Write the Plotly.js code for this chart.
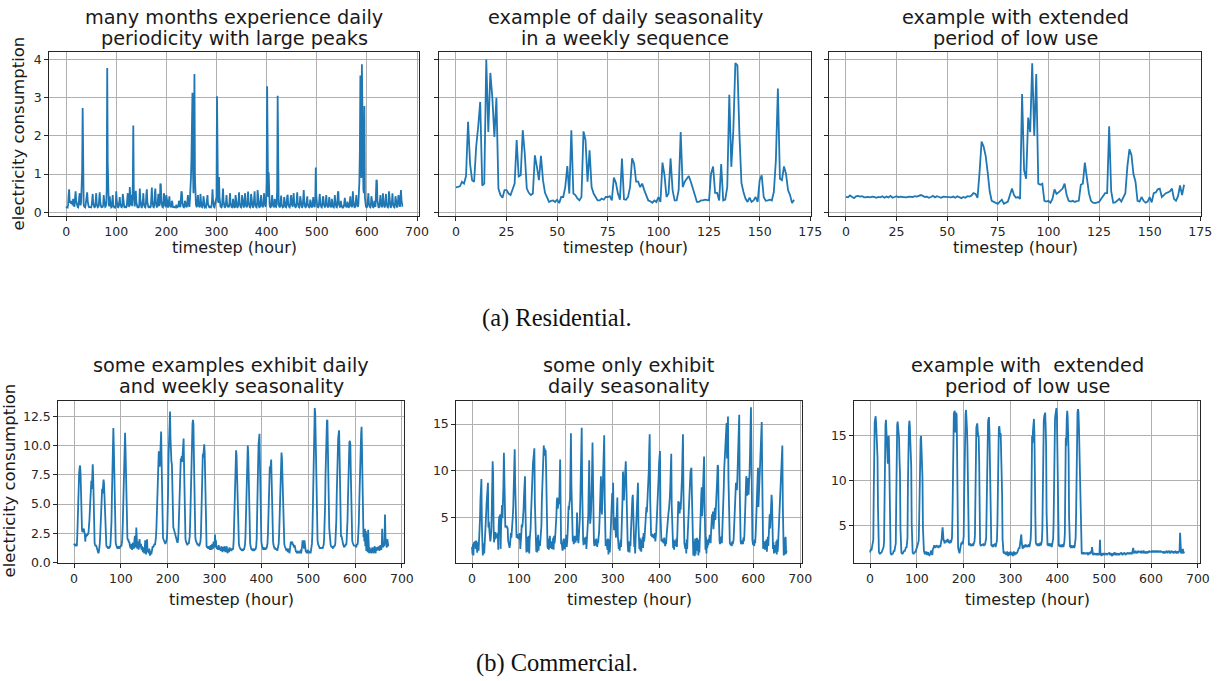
<!DOCTYPE html>
<html>
<head>
<meta charset="utf-8">
<script src="https://cdn.plot.ly/plotly-3.0.1.min.js"></script>
<style>
  html, body { margin: 0; padding: 0; background: #ffffff; }
  #chart { width: 1218px; height: 681px; }
</style>
</head>
<body>
<div id="chart"></div>
<script>
// ---------------------------------------------------------------
// Hourly electricity consumption, residential and commercial users
// ---------------------------------------------------------------

// Residential: four weeks of hourly readings (one row per day)
const resMonth = [
  [0.15,0.13,0.14,0.13,0.2,0.45,0.6,0.32,0.25,0.28,0.22,0.3,0.26,0.18,0.35,0.22,0.15,0.18,0.42,0.55,0.3,0.2,0.16,0.14],
  [0.13,0.2,0.38,0.5,0.25,0.18,0.3,0.55,1.1,2.73,0.6,0.22,0.15,0.14,0.13,0.2,0.28,0.45,0.52,0.3,0.18,0.15,0.13,0.14],
  [0.13,0.14,0.13,0.18,0.32,0.48,0.25,0.16,0.14,0.13,0.15,0.3,0.5,0.22,0.15,0.13,0.14,0.16,0.35,0.52,0.28,0.17,0.14,0.13],
  [0.13,0.14,0.2,0.45,0.3,0.16,0.14,0.15,0.22,0.6,3.78,1.3,0.35,0.2,0.16,0.42,0.28,0.15,0.13,0.14,0.38,0.45,0.18,0.14],
  [0.13,0.14,0.13,0.2,0.55,0.3,0.17,0.14,0.13,0.15,0.28,0.4,0.22,0.15,0.14,0.13,0.18,0.48,0.3,0.16,0.14,0.13,0.15,0.14],
  [0.13,0.15,0.35,0.5,0.24,0.16,0.14,0.66,0.3,0.18,0.45,0.25,0.16,0.7,2.27,0.55,0.2,0.15,0.38,0.56,0.28,0.17,0.14,0.13],
  [0.14,0.13,0.22,0.62,0.35,0.18,0.14,0.13,0.16,0.3,0.5,0.24,0.15,0.14,0.13,0.2,0.45,0.6,0.28,0.16,0.14,0.13,0.15,0.14],
  [0.13,0.15,0.4,0.65,0.3,0.17,0.14,0.13,0.18,0.5,0.62,0.26,0.15,0.14,0.13,0.25,0.48,0.3,0.16,0.22,0.75,0.72,0.3,0.15],
  [0.14,0.13,0.2,0.5,0.42,0.2,0.15,0.13,0.45,0.3,0.16,0.14,0.13,0.35,0.42,0.2,0.14,0.13,0.15,0.3,0.25,0.14,0.13,0.14],
  [0.13,0.14,0.13,0.15,0.2,0.13,0.14,0.13,0.15,0.3,0.22,0.14,0.13,0.35,0.55,0.5,0.24,0.15,0.14,0.13,0.16,0.3,0.2,0.14],
  [0.13,0.15,0.3,0.45,0.22,0.15,0.14,0.35,0.55,0.9,1.4,2.4,3.13,1.2,0.5,1.9,3.62,0.9,0.3,0.2,0.15,0.14,0.3,0.45],
  [0.2,0.14,0.13,0.15,0.48,0.3,0.16,0.14,0.13,0.18,0.42,0.25,0.15,0.13,0.14,0.13,0.2,0.38,0.45,0.22,0.15,0.14,0.13,0.15],
  [0.14,0.13,0.16,0.3,0.6,0.35,0.18,0.14,0.13,0.22,0.3,0.28,0.4,3.04,0.65,0.3,0.25,0.92,0.4,0.2,0.15,0.14,0.13,0.16],
  [0.35,0.62,0.3,0.17,0.14,0.13,0.15,0.28,0.45,0.22,0.14,0.13,0.15,0.13,0.3,0.5,0.24,0.15,0.14,0.13,0.18,0.35,0.2,0.14],
  [0.13,0.14,0.45,0.3,0.16,0.14,0.13,0.15,0.3,0.52,0.25,0.15,0.14,0.13,0.2,0.45,0.3,0.16,0.14,0.13,0.38,0.5,0.22,0.14],
  [0.13,0.15,0.3,0.54,0.26,0.16,0.14,0.13,0.2,0.48,0.3,0.17,0.14,0.13,0.15,0.35,0.55,0.25,0.15,0.14,0.13,0.22,0.58,0.3],
  [0.17,0.14,0.13,0.15,0.3,0.45,0.22,0.14,0.13,0.16,0.35,0.5,0.24,0.15,0.14,0.3,0.8,3.3,0.9,0.4,1.05,0.35,0.18,0.14],
  [0.13,0.15,0.3,0.45,0.22,0.14,0.13,0.16,0.35,0.28,0.15,0.14,0.22,0.6,3.05,0.5,0.2,0.15,0.14,0.13,0.3,0.44,0.2,0.14],
  [0.13,0.14,0.15,0.4,0.3,0.16,0.14,0.13,0.18,0.42,0.46,0.22,0.15,0.14,0.13,0.2,0.38,0.45,0.22,0.15,0.14,0.3,0.5,0.24],
  [0.15,0.14,0.13,0.15,0.32,0.52,0.26,0.16,0.14,0.13,0.2,0.42,0.3,0.17,0.14,0.13,0.15,0.35,0.58,0.28,0.16,0.14,0.13,0.15],
  [0.3,0.42,0.22,0.15,0.14,0.13,0.16,0.33,0.28,0.15,0.14,0.13,0.25,0.4,0.2,0.14,0.13,0.3,1.17,0.45,0.2,0.15,0.14,0.13],
  [0.15,0.3,0.48,0.24,0.15,0.14,0.13,0.2,0.38,0.42,0.2,0.15,0.14,0.13,0.28,0.45,0.22,0.15,0.14,0.13,0.3,0.4,0.2,0.14],
  [0.13,0.15,0.35,0.28,0.15,0.14,0.13,0.2,0.45,0.3,0.16,0.14,0.13,0.18,0.5,0.55,0.25,0.15,0.14,0.13,0.3,0.2,0.14,0.13],
  [0.14,0.13,0.15,0.3,0.38,0.2,0.14,0.13,0.15,0.28,0.22,0.14,0.13,0.15,0.3,0.42,0.2,0.14,0.13,0.2,0.55,0.3,0.16,0.14],
  [0.13,0.15,0.3,0.45,0.22,0.15,0.14,0.2,0.45,0.8,1.6,3.58,1.2,0.9,3.88,1.8,1.5,0.6,0.5,2.78,0.4,0.2,0.15,0.14],
  [0.13,0.15,0.35,0.5,0.24,0.15,0.14,0.13,0.2,0.42,0.3,0.16,0.14,0.13,0.15,0.3,0.22,0.14,0.45,0.85,0.82,0.3,0.16,0.14],
  [0.13,0.14,0.3,0.45,0.22,0.14,0.13,0.2,0.5,0.28,0.15,0.14,0.13,0.3,0.48,0.24,0.15,0.14,0.13,0.22,0.55,0.3,0.16,0.14],
  [0.13,0.15,0.28,0.5,0.25,0.15,0.14,0.13,0.2,0.42,0.3,0.16,0.14,0.13,0.25,0.45,0.3,0.15,0.14,0.4,0.58,0.32,0.18,0.15]
].flat();

// Residential: one week with a clear daily rhythm
const resWeek = [
  0.65,0.66,0.68,0.80,0.75,0.95,2.37,1.27,0.84,0.80,1.71,2.24,
  2.89,0.70,0.75,4.00,2.10,3.65,3.00,1.97,3.00,0.62,0.45,0.38,
  0.58,0.58,0.49,0.45,0.62,0.75,1.89,0.94,0.97,2.15,1.54,0.62,
  0.51,0.45,0.49,1.49,1.19,0.84,1.48,0.84,0.51,0.40,0.27,0.30,
  0.31,0.27,0.33,0.24,0.40,0.40,0.66,1.21,0.49,2.15,0.49,0.45,
  0.36,0.31,0.40,2.12,1.89,0.80,1.62,0.66,0.49,0.40,0.31,0.31,
  0.36,0.33,0.40,0.40,0.42,0.31,0.91,0.77,0.49,0.33,1.41,0.34,
  0.33,0.40,0.66,1.41,1.27,0.80,0.80,0.66,0.75,0.58,0.45,0.31,
  0.29,0.25,0.31,0.27,0.40,0.27,1.30,0.97,0.40,0.49,1.41,0.58,
  0.31,0.31,0.58,2.10,0.66,0.80,0.88,0.95,0.80,0.59,0.45,0.27,
  0.27,0.31,0.31,0.33,0.31,0.31,1.01,1.20,0.51,0.51,0.31,1.26,
  0.31,0.33,0.66,3.08,1.19,2.15,3.91,3.85,2.06,0.77,0.53,0.36,
  0.27,0.38,0.27,0.31,0.40,0.27,0.84,0.97,0.40,0.30,0.31,0.33,
  0.31,0.53,1.36,3.24,0.88,0.84,1.20,1.01,0.58,0.45,0.24,0.33
];

// Residential: one week that starts with a long quiet stretch
const resLowWeek = [
  0.40,0.39,0.44,0.40,0.37,0.42,0.43,0.41,0.42,0.39,0.40,0.40,
  0.39,0.41,0.40,0.38,0.40,0.39,0.42,0.38,0.41,0.39,0.43,0.38,
  0.40,0.42,0.39,0.41,0.40,0.40,0.39,0.41,0.40,0.40,0.42,0.41,
  0.43,0.45,0.43,0.40,0.41,0.38,0.40,0.43,0.39,0.42,0.40,0.38,
  0.41,0.40,0.41,0.40,0.39,0.41,0.38,0.42,0.39,0.37,0.40,0.38,
  0.42,0.41,0.44,0.50,0.48,0.38,1.05,1.85,1.72,1.48,1.05,0.55,
  0.30,0.27,0.25,0.22,0.28,0.33,0.22,0.24,0.28,0.45,0.62,0.45,
  0.38,0.40,0.35,3.10,1.10,0.88,2.48,2.10,3.90,2.00,3.62,0.75,
  0.72,0.75,0.30,0.28,0.30,0.25,0.35,0.60,0.48,0.52,0.56,0.62,
  0.75,0.45,0.30,0.28,0.30,0.27,0.29,0.30,0.72,0.75,1.30,0.90,
  0.50,0.30,0.25,0.24,0.25,0.27,0.35,0.42,0.50,0.50,2.25,0.55,
  0.25,0.26,0.30,0.35,0.28,0.40,0.50,1.20,1.65,1.50,1.00,0.80,
  0.30,0.28,0.40,0.30,0.25,0.28,0.40,0.26,0.50,0.52,0.60,0.62,
  0.40,0.45,0.50,0.52,0.55,0.62,0.35,0.30,0.42,0.70,0.45,0.72
];

// Commercial: weekday peaks, quiet weekends (one row per day)
const comWeekly = [
  [1.5,1.6,1.5,1.4,1.6,1.5,1.4,2.3,3.8,5.9,7.6,7.7,8.1,8.3,7.6,5.2,3.1,2.8,2.6,2.8,2.7,2.9,2.6,2.5],
  [1.8,2.3,2.2,2.4,2.3,2.5,2.4,2.6,3.0,3.7,4.6,5.9,6.8,7.0,6.3,7.5,8.4,7.2,4.5,2.8,1.7,1.5,1.4,1.5],
  [1.3,1.1,0.9,0.8,0.8,0.9,1.2,1.6,2.4,3.3,4.5,6.1,6.3,5.9,6.6,7.1,6.8,5.7,3.4,2.1,1.6,1.5,1.3,1.4],
  [1.3,1.2,1.3,1.2,1.4,1.3,1.7,2.4,3.5,5.8,8.6,10.2,11.5,9.9,7.0,4.6,2.6,1.7,1.5,1.4,1.3,1.2,1.3,1.4],
  [1.3,1.2,1.4,1.3,1.5,1.4,1.6,2.0,3.1,4.9,7.8,9.9,10.8,11.1,9.6,6.5,3.5,2.3,2.1,1.9,2.0,1.7,1.8,1.5],
  [1.3,1.2,1.6,1.3,1.1,1.4,1.7,1.5,1.2,1.9,2.3,1.6,1.3,3.0,1.5,1.2,1.8,1.4,1.1,1.7,2.0,1.5,1.3,1.6],
  [1.1,1.4,1.2,0.9,1.3,1.1,0.8,1.2,1.9,1.0,0.7,1.1,2.0,0.9,1.1,1.0,0.8,1.2,0.6,0.9,1.0,0.7,1.2,1.3],
  [1.4,1.3,1.5,1.4,1.6,1.5,1.7,2.2,3.0,4.6,6.9,8.8,9.3,9.5,8.4,8.2,9.0,10.4,11.2,8.7,4.9,2.8,2.1,2.0],
  [1.9,1.8,1.7,1.6,1.7,1.8,2.0,2.6,4.0,6.3,9.2,11.4,12.1,12.9,10.6,8.8,8.6,8.4,5.6,3.4,3.0,2.9,2.7,2.8],
  [2.6,2.4,2.1,1.9,1.8,1.7,1.9,2.5,3.6,5.3,7.4,8.5,8.9,8.7,9.1,8.6,9.4,9.9,10.6,8.2,4.6,2.6,2.0,1.8],
  [1.7,1.6,1.5,1.6,1.7,1.6,1.8,2.2,3.4,5.4,8.1,10.3,11.6,11.9,12.2,11.8,9.0,5.8,3.2,2.2,1.9,1.8,1.7,1.6],
  [1.5,1.6,1.5,1.4,1.5,1.6,1.8,2.4,3.7,5.8,8.3,9.3,9.0,9.6,10.1,9.4,6.4,3.3,1.8,1.4,1.3,1.4,1.2,1.3],
  [1.2,1.4,1.1,1.3,1.5,1.2,1.1,1.6,1.3,1.2,1.8,1.4,1.3,2.4,1.5,1.9,1.3,1.2,1.4,1.1,1.3,1.5,1.2,1.1],
  [1.3,1.0,1.2,1.4,1.1,0.9,1.2,1.3,1.0,1.4,1.2,0.9,1.1,1.3,1.4,1.0,0.8,1.2,1.1,0.9,1.3,1.0,1.2,1.1],
  [1.0,1.1,1.2,1.1,1.3,2.0,3.4,5.6,7.8,9.1,9.6,9.2,7.4,5.0,3.0,2.2,1.6,1.4,1.2,1.3,1.1,1.2,1.0,1.1],
  [1.1,1.0,1.2,1.1,1.3,1.5,2.2,3.8,6.1,8.4,9.5,10.0,9.3,6.8,4.2,2.5,1.7,1.4,1.3,1.1,1.2,1.0,1.1,1.2],
  [1.1,1.0,1.2,1.1,1.2,1.4,2.0,3.4,5.7,8.3,10.1,10.6,11.0,8.5,5.4,3.0,1.8,1.5,1.3,1.2,1.1,1.3,1.2,1.1],
  [1.2,1.1,1.3,1.2,1.4,1.6,2.4,4.0,6.2,7.6,8.2,7.8,8.3,8.8,7.0,4.5,2.6,1.8,1.5,1.3,1.2,1.3,1.1,1.2],
  [1.1,1.2,1.0,1.2,1.3,1.6,2.5,4.3,6.5,8.4,9.1,9.4,8.9,7.3,4.8,2.9,1.9,1.6,1.4,1.3,1.2,1.1,1.0,1.2],
  [1.1,0.9,1.0,1.2,0.8,1.1,1.3,1.8,1.7,1.6,1.8,1.5,1.6,1.4,1.3,1.5,1.2,1.1,0.9,1.0,0.8,0.9,1.0,0.8],
  [0.9,0.8,1.0,0.9,1.1,0.8,1.0,1.4,1.9,1.5,1.8,1.2,1.9,1.4,1.1,0.9,1.0,0.8,0.9,1.1,0.8,0.9,1.0,0.8],
  [0.9,0.8,1.0,1.2,1.6,2.6,4.8,7.9,10.6,12.4,13.2,12.8,9.7,8.4,4.6,2.6,1.9,1.6,1.5,1.4,1.3,1.2,1.3,1.2],
  [1.3,1.2,1.3,1.2,1.4,1.5,2.0,3.0,4.8,7.5,10.1,11.8,12.1,12.2,10.6,8.3,5.2,2.9,2.0,1.6,1.5,1.4,1.3,1.4],
  [1.3,1.2,1.4,1.3,1.5,1.4,1.7,2.3,3.6,5.9,8.5,10.0,10.6,11.0,11.3,9.2,5.6,3.0,2.2,2.3,2.0,1.8,1.6,1.5],
  [1.4,1.3,1.5,1.4,1.6,1.5,1.8,2.4,3.7,5.6,8.2,9.9,10.3,10.4,10.1,7.6,4.3,2.5,1.9,1.7,1.6,1.5,1.4,1.5],
  [1.4,1.5,1.3,1.4,1.6,1.5,1.7,2.2,3.3,5.0,7.4,8.6,9.5,11.0,11.6,9.3,5.2,2.9,2.2,2.6,1.8,2.9,1.4,2.7],
  [1.0,2.5,1.2,0.9,2.8,1.1,0.8,1.3,0.9,1.2,0.8,1.0,0.9,1.3,1.1,0.8,0.9,1.2,1.4,1.1,0.8,1.3,1.0,1.2],
  [1.3,1.1,1.4,1.2,1.0,1.3,1.5,1.2,1.1,1.4,2.9,1.6,1.3,1.8,1.4,1.9,4.1,2.2,1.5,1.4,1.3,2.0,1.7,1.4]
].flat();

// Commercial: daily peaks only, no weekly pattern
const comDaily = [
  [1.8,1.0,2.1,0.9,2.3,1.9,2.4,2.2,1.6,2.5,2.0,1.2,1.9,2.3,1.4,2.2,3.1,4.8,6.9,8.2,9.1,4.2,1.5,0.9],
  [1.8,2.2,1.1,1.9,2.4,3.6,5.2,6.4,7.5,7.9,8.7,3.9,4.5,3.6,3.1,2.4,2.8,3.5,5.4,7.8,11.0,9.6,4.1,2.3],
  [3.2,2.6,3.4,3.0,3.1,2.9,2.7,3.3,1.5,4.2,5.1,4.6,5.3,1.6,4.0,5.2,6.3,4.9,6.0,8.4,11.9,7.2,4.1,3.9],
  [4.0,3.9,4.1,3.8,3.9,2.5,2.1,1.9,1.7,2.0,2.6,3.3,2.8,3.4,4.3,5.1,6.2,7.8,9.8,12.3,8.6,5.0,3.1,2.8],
  [2.9,3.2,2.7,3.0,2.8,2.6,3.3,1.6,2.4,3.0,4.2,3.9,4.3,4.8,5.9,7.4,8.6,9.4,5.6,3.1,1.2,2.9,1.3,2.8],
  [2.7,3.0,1.1,2.6,3.2,3.8,5.5,7.3,9.6,10.4,10.8,11.3,12.1,12.4,6.7,3.3,2.4,1.3,2.8,1.2,2.6,3.1,1.4,2.5],
  [2.2,1.9,2.8,3.0,4.1,6.8,9.2,11.6,12.1,12.7,11.9,12.4,11.6,12.2,10.3,6.4,3.7,1.8,1.6,2.7,1.5,2.9,3.0,2.1],
  [1.7,2.4,1.6,2.3,1.9,2.8,1.5,3.0,2.2,2.6,3.4,4.1,5.2,6.8,7.1,5.9,6.6,7.0,6.4,9.3,11.2,6.5,2.1,2.6],
  [1.9,1.4,2.3,1.5,2.7,2.0,1.6,2.5,2.2,3.1,1.8,2.4,3.3,4.7,6.2,5.8,6.6,6.9,10.1,14.0,8.4,4.3,2.6,2.4],
  [2.8,2.1,2.6,3.0,2.4,2.3,2.9,2.5,5.5,2.6,2.7,2.2,2.8,3.4,4.9,6.9,9.3,12.6,14.6,7.9,3.6,2.5,2.0,2.8],
  [2.3,2.6,2.1,2.9,1.6,2.5,2.8,3.6,5.2,8.3,11.1,6.2,4.3,4.9,5.8,7.1,9.6,13.0,8.0,3.9,2.4,1.9,2.6,2.1],
  [2.0,2.7,2.4,1.8,2.5,2.2,2.9,3.3,4.6,6.2,5.8,9.4,6.1,5.3,6.7,8.4,10.9,12.8,13.8,7.2,2.5,1.9,2.6,2.3],
  [2.1,1.5,2.7,1.0,2.3,2.6,1.2,2.4,3.0,4.3,6.2,7.6,5.4,8.7,4.5,3.6,4.1,5.0,3.3,2.8,4.4,5.3,7.1,3.0],
  [2.5,1.6,2.2,1.4,2.0,2.6,1.8,3.1,4.6,6.9,9.9,7.4,6.8,8.1,9.6,10.3,11.0,8.9,5.1,2.9,2.2,1.3,2.4,1.6],
  [1.2,2.3,1.9,3.4,5.2,6.6,7.0,7.4,3.9,2.6,1.8,2.5,1.1,2.7,3.8,5.6,6.9,8.1,8.7,4.2,2.3,1.6,2.8,1.4],
  [2.4,1.3,2.6,2.0,2.9,1.7,3.3,2.4,2.8,3.6,4.2,5.3,6.1,5.5,6.4,7.8,8.6,9.9,12.2,13.9,7.1,3.2,3.0,3.1],
  [2.9,3.2,3.0,2.8,3.1,2.7,3.3,2.4,2.9,3.5,4.4,5.6,6.8,7.9,9.2,10.8,11.5,12.1,5.4,2.6,2.4,2.7,2.5,2.3],
  [2.6,2.2,2.8,2.4,1.9,2.5,2.1,3.0,3.8,4.9,5.2,5.4,5.8,6.3,7.1,8.4,10.6,11.8,6.2,3.0,2.2,1.7,2.6,1.5],
  [2.3,1.9,2.5,2.0,2.7,1.8,3.2,4.6,6.7,6.5,6.1,5.4,6.6,5.8,6.9,7.6,9.4,11.8,13.9,7.8,3.1,2.2,1.9,1.6],
  [2.2,1.1,2.6,1.6,3.0,4.3,5.8,7.2,8.0,9.1,9.8,10.1,10.3,7.6,3.9,1.8,0.9,2.4,1.3,0.8,2.7,1.0,2.3,1.6],
  [2.8,1.4,2.1,0.9,2.6,1.2,3.3,4.7,6.2,7.4,8.2,5.1,6.3,8.4,10.2,11.5,6.8,3.5,1.5,2.9,1.1,2.4,1.7,2.6],
  [2.0,2.7,2.3,3.1,2.5,2.2,3.5,4.0,5.3,4.8,5.6,3.7,4.4,5.2,6.0,4.7,5.5,6.3,7.6,9.1,10.6,10.4,5.9,2.8],
  [2.4,2.1,2.6,2.3,2.9,2.2,3.4,4.5,6.3,8.1,10.2,11.5,11.0,12.4,14.3,15.1,11.3,14.6,15.8,9.2,4.4,2.6,2.2,2.1],
  [2.0,2.2,1.9,2.4,2.1,2.3,2.6,3.8,5.4,7.0,8.6,8.7,8.4,7.9,9.1,10.8,12.9,14.8,16.0,8.3,3.6,2.4,2.1,2.3],
  [2.2,2.5,2.1,2.8,2.4,3.0,4.6,6.5,8.4,9.4,8.7,7.3,9.2,8.0,7.4,8.9,9.6,11.8,14.6,16.8,12.3,4.0,2.6,2.2],
  [2.0,2.3,1.9,2.6,2.2,3.1,4.7,6.0,8.1,9.4,10.3,6.1,7.2,8.4,9.6,10.7,12.5,14.1,15.2,9.8,3.3,1.6,2.3,1.8],
  [2.4,1.5,2.1,1.7,2.6,1.3,2.2,2.9,1.9,3.4,4.2,5.3,3.8,4.9,6.3,7.4,6.6,3.1,1.6,2.3,1.1,2.0,1.4,1.8],
  [1.2,2.4,1.0,2.6,1.3,2.2,3.5,5.1,6.4,7.8,8.9,10.1,11.3,11.8,12.7,6.2,2.5,0.9,1.3,2.8,1.0,2.9,1.1,1.4]
].flat();

// Commercial: three busy weeks, then a long stretch of low use
const comLow = [
  [2.0,2.3,2.4,2.2,2.5,2.6,2.7,3.4,8.6,14.8,16.5,16.9,17.2,16.4,14.9,13.0,12.6,7.1,2.8,2.1,1.9,1.8,1.9,2.0],
  [1.9,2.1,2.3,2.2,2.4,2.6,3.2,9.1,15.3,16.2,16.8,15.6,13.4,12.0,11.9,14.8,15.0,12.6,5.4,2.2,1.9,1.8,1.7,1.9],
  [1.8,1.9,2.0,2.2,2.1,2.4,2.5,3.0,7.8,14.6,16.2,16.6,15.9,15.1,14.8,12.3,10.8,4.6,2.3,2.0,1.9,1.8,1.9,2.1],
  [2.0,2.2,2.1,2.4,2.3,2.6,2.5,2.8,3.6,9.7,15.0,15.9,16.7,16.2,14.5,13.1,11.6,5.2,2.4,2.0,1.9,1.8,2.0,1.9],
  [2.1,2.0,2.2,2.5,2.4,2.7,2.9,3.1,3.3,5.8,11.2,13.8,14.6,15.0,13.9,13.3,10.4,4.8,2.5,2.2,2.0,1.8,2.1,1.9],
  [1.8,2.1,1.7,1.9,2.0,1.8,1.7,1.6,1.9,1.8,2.2,2.0,1.8,1.7,2.3,2.4,2.6,2.8,2.7,2.5,2.7,2.6,2.8,2.7],
  [2.6,2.7,2.5,2.6,2.8,2.7,2.6,2.9,3.1,3.5,4.3,4.8,4.1,3.3,3.4,3.0,3.2,3.3,3.1,3.4,3.2,3.3,3.5,3.2],
  [3.1,3.3,3.0,3.2,3.4,3.1,3.3,3.6,5.9,12.6,16.8,17.5,17.7,17.8,15.4,15.5,17.6,17.3,12.8,4.6,2.6,2.3,2.0,1.9],
  [2.2,2.6,2.9,3.1,3.0,3.2,2.9,3.3,3.8,8.2,14.6,16.9,17.4,17.9,17.2,15.8,13.9,6.7,3.4,2.9,2.8,3.0,2.9,2.8],
  [2.7,2.9,2.8,3.0,2.7,2.9,3.1,3.2,3.9,9.8,15.1,15.9,16.2,16.4,15.6,14.9,15.0,12.4,5.1,3.0,2.8,2.7,2.9,2.8],
  [2.9,2.8,3.0,2.7,2.9,2.8,3.0,3.2,3.6,6.9,13.5,15.8,16.6,16.9,17.1,15.4,12.7,6.3,3.2,2.8,2.7,2.9,2.6,2.8],
  [2.7,2.9,2.8,3.0,2.6,2.8,3.1,3.3,5.2,11.8,15.2,15.8,16.1,15.6,14.9,15.3,13.4,12.5,8.6,3.5,2.3,2.0,1.9,2.1],
  [1.9,1.8,2.0,1.7,1.9,2.1,1.8,1.6,1.9,2.0,1.7,1.8,2.1,1.9,1.7,2.0,1.8,1.6,1.9,2.1,1.8,1.7,2.0,1.9],
  [1.8,2.0,1.9,2.1,2.3,2.2,2.5,2.4,2.8,3.2,3.6,4.0,3.1,2.6,2.4,2.7,2.5,2.8,2.6,2.7,2.9,2.6,2.8,2.7],
  [2.6,2.8,2.7,2.9,2.6,2.8,3.0,3.4,4.8,11.3,15.0,14.2,15.6,16.4,16.9,15.2,12.6,6.1,3.1,2.9,2.8,3.0,2.7,2.9],
  [2.8,3.0,2.7,2.9,3.1,2.8,3.0,3.3,4.6,10.2,15.1,16.7,17.2,17.4,17.6,16.1,13.8,6.4,3.0,2.8,2.9,2.7,3.0,2.8],
  [2.9,2.7,3.0,2.8,2.6,2.9,3.1,3.5,5.4,12.0,16.3,16.9,17.4,17.8,18.1,17.3,14.2,7.5,3.3,2.8,2.7,2.9,2.6,2.8],
  [2.7,2.6,2.9,2.7,2.8,2.6,2.9,3.2,4.1,9.6,14.8,13.9,16.9,17.8,17.2,15.4,13.1,6.0,2.9,2.6,2.7,2.5,2.8,2.6],
  [2.5,2.7,2.6,2.8,2.5,2.7,3.0,3.6,6.2,13.1,16.8,17.6,18.0,17.7,16.2,13.4,13.0,8.4,3.1,2.0,1.9,1.8,1.9,2.0],
  [1.9,1.8,2.0,1.9,1.8,1.9,1.8,2.0,1.9,1.8,1.7,1.9,2.0,1.8,1.9,2.1,1.9,2.0,2.6,1.9,1.8,1.7,1.9,1.8],
  [1.8,1.9,1.7,1.8,1.9,1.8,1.7,1.9,1.8,1.7,2.0,3.4,1.9,1.7,1.6,1.8,1.9,1.7,1.8,1.9,1.8,1.7,1.8,1.9],
  [1.8,1.9,1.7,1.8,1.9,1.8,1.9,2.0,1.8,1.7,1.9,1.8,1.7,1.6,1.8,1.9,1.7,1.8,2.0,1.9,1.8,1.7,1.8,1.9],
  [1.8,1.7,1.9,1.8,1.7,1.8,1.9,1.8,2.0,1.9,1.8,1.7,1.8,1.9,1.8,2.0,1.9,1.8,1.7,1.9,1.8,1.9,2.0,1.8],
  [1.9,1.8,2.0,1.9,1.8,2.0,1.9,1.8,2.0,2.1,2.5,2.0,1.9,2.1,2.0,2.2,1.9,2.1,2.0,1.9,2.1,2.2,2.0,2.1],
  [2.0,2.1,1.9,2.2,2.0,2.1,1.9,2.0,2.2,2.1,1.9,2.0,2.1,1.9,2.0,2.1,2.0,1.9,2.1,2.0,2.2,2.1,2.0,2.1],
  [2.0,2.1,2.2,2.1,2.0,2.2,2.1,2.0,2.1,2.2,2.0,2.1,2.2,2.1,2.0,2.1,2.2,2.0,2.1,2.0,2.2,2.1,2.0,2.1],
  [2.0,2.1,1.9,2.0,2.1,2.0,1.9,2.1,2.0,2.2,2.0,1.9,2.1,2.0,2.2,2.1,2.0,1.9,2.0,2.1,2.2,2.0,2.1,2.0],
  [1.9,2.0,2.1,2.0,2.2,2.0,1.9,2.1,2.0,1.9,2.0,2.1,2.0,2.3,4.2,2.1,2.0,1.9,2.0,2.1,2.4,1.9,2.0,2.1]
].flat();

// Panel titles (two lines each), axis labels and captions
const panelTitles = [
  ["many months experience daily", "periodicity with large peaks"],
  ["example of daily seasonality", "in a weekly sequence"],
  ["example with extended", "period of low use"],
  ["some examples exhibit daily", "and weekly seasonality"],
  ["some only exhibit", "daily seasonality"],
  ["example with  extended", "period of low use"]
];
const xLabel = "timestep (hour)";
const yLabel = "electricity consumption";
const captions = ["(a) Residential.", "(b) Commercial."];

const monthTicks = [0, 100, 200, 300, 400, 500, 600, 700];
const weekTicks = [0, 25, 50, 75, 100, 125, 150, 175];
const resYTicks = [0, 1, 2, 3, 4];
const comWeeklyYTicks = [0, 2.5, 5, 7.5, 10, 12.5];
const comYTicks = [5, 10, 15];

// ---------------------------------------------------------------
const W = 1218, H = 681;
const fx = p => p / W;
const fy = p => 1 - p / H;
const BLUE = "#1f77b4";
const FONT = "DejaVu Sans, sans-serif";

function hours(values) { return values.map((_, i) => i); }

const series = [resMonth, resWeek, resLowWeek, comWeekly, comDaily, comLow];

// plot-area boxes in pixels: [left, right, top, bottom]
const boxes = [
  [49.3, 419.3, 52.3, 215.7],
  [439, 811, 52.3, 215.7],
  [829, 1201, 52.3, 215.7],
  [58.3, 404, 400.7, 563],
  [456.3, 802.3, 400.7, 563.3],
  [854.3, 1200, 401, 562.7]
];

const xRanges = [[-33.55, 704.55], [-8.35, 175.35], [-8.35, 175.35],
                 [-33.55, 704.55], [-33.55, 704.55], [-33.55, 704.55]];
const yRanges = [[-0.09, 4.19], [-0.09, 4.19], [-0.09, 4.19],
                 [-0.03, 13.83], [0.05, 17.5], [0.85, 18.9]];
const xTicks = [monthTicks, weekTicks, weekTicks, monthTicks, monthTicks, monthTicks];
const yTicks = [resYTicks, resYTicks, resYTicks, comWeeklyYTicks, comYTicks, comYTicks];
const yTickText = [null, null, null, ["0.0", "2.5", "5.0", "7.5", "10.0", "12.5"], null, null];
const showYLabels = [true, false, false, true, true, true];

const traces = [];
const layout = {
  width: W, height: H,
  margin: { l: 0, r: 0, t: 0, b: 0 },
  paper_bgcolor: "#ffffff",
  plot_bgcolor: "#ffffff",
  showlegend: false,
  font: { family: FONT, size: 12, color: "#222222" },
  annotations: []
};

series.forEach((vals, k) => {
  const n = k + 1;
  const xa = n === 1 ? "xaxis" : "xaxis" + n;
  const ya = n === 1 ? "yaxis" : "yaxis" + n;
  traces.push({
    type: "scatter", mode: "lines",
    x: hours(vals), y: vals,
    xaxis: "x" + (n === 1 ? "" : n), yaxis: "y" + (n === 1 ? "" : n),
    line: { color: BLUE, width: 1.8 },
    hoverinfo: "skip"
  });
  const b = boxes[k];
  const common = {
    showgrid: true, gridcolor: "#b0b0b0", gridwidth: 1,
    zeroline: false, showline: true, mirror: true,
    linecolor: "#262626", linewidth: 1,
    ticks: "outside", ticklen: 4, tickwidth: 1, tickcolor: "#262626",
    tickfont: { family: FONT, size: 12.5, color: "#262626" },
    automargin: false, fixedrange: true
  };
  layout[xa] = Object.assign({}, common, {
    domain: [fx(b[0]), fx(b[1])],
    anchor: "y" + (n === 1 ? "" : n),
    range: xRanges[k], tickmode: "array", tickvals: xTicks[k]
  });
  const yAxis = Object.assign({}, common, {
    domain: [fy(b[3]), fy(b[2])],
    anchor: "x" + (n === 1 ? "" : n),
    range: yRanges[k], tickmode: "array", tickvals: yTicks[k],
    showticklabels: showYLabels[k]
  });
  if (yTickText[k]) yAxis.ticktext = yTickText[k];
  layout[ya] = yAxis;

  // two-line title above the panel
  const cx = (b[0] + b[1]) / 2;
  const rowTop = k < 3 ? 18 : 366;
  panelTitles[k].forEach((line, j) => {
    layout.annotations.push({
      text: line, xref: "paper", yref: "paper",
      x: fx(cx), y: fy(rowTop + j * 20.5),
      xanchor: "center", yanchor: "middle", showarrow: false,
      font: { family: FONT, size: 19.3, color: "#1a1a1a" }
    });
  });
  // x-axis label
  layout.annotations.push({
    text: xLabel, xref: "paper", yref: "paper",
    x: fx(cx), y: fy(k < 3 ? 248 : 599),
    xanchor: "center", yanchor: "middle", showarrow: false,
    font: { family: FONT, size: 16, color: "#1a1a1a" }
  });
});

// y-axis labels on the left-hand panels
[[18.5, 134], [8.5, 481]].forEach(([x, y]) => {
  layout.annotations.push({
    text: yLabel, xref: "paper", yref: "paper",
    x: fx(x), y: fy(y), textangle: -90,
    xanchor: "center", yanchor: "middle", showarrow: false,
    font: { family: FONT, size: 16.5, color: "#1a1a1a" }
  });
});

// sub-figure captions
[[557, 318], [557, 663]].forEach(([x, y], i) => {
  layout.annotations.push({
    text: captions[i], xref: "paper", yref: "paper",
    x: fx(x), y: fy(y),
    xanchor: "center", yanchor: "middle", showarrow: false,
    font: { family: "Liberation Serif, DejaVu Serif, serif", size: 24.5, color: "#111111" }
  });
});

Plotly.newPlot("chart", traces, layout, { staticPlot: true, displayModeBar: false });
</script>
</body>
</html>
